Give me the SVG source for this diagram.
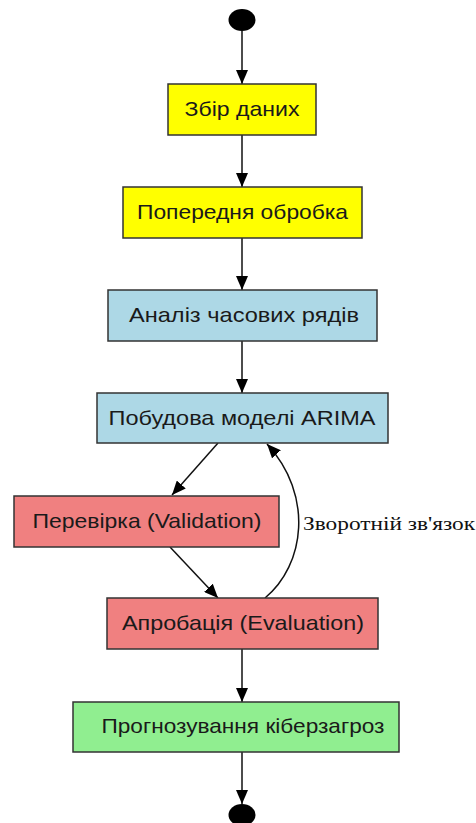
<svg xmlns="http://www.w3.org/2000/svg" width="476" height="823" viewBox="0 0 476 823">
<style>
.box{stroke:#333;stroke-width:1.5}
.lbl{font-family:"Liberation Sans",Arial,sans-serif;font-size:21px;fill:#1a1a1a;text-anchor:middle}
.edge{fill:none;stroke:#111;stroke-width:1.5}
.elbl{font-family:"Liberation Serif","Times New Roman",serif;font-size:18px;fill:#111}
</style>
<defs>
<marker id="ah" markerUnits="userSpaceOnUse" markerWidth="15" markerHeight="12" refX="14" refY="6" orient="auto">
<path d="M0,0 L14,6 L0,12 z" fill="#000"/>
</marker>
</defs>
<g id="edges">
<line class="edge" x1="242" y1="31" x2="242" y2="84" marker-end="url(#ah)"/>
<line class="edge" x1="242" y1="135" x2="242" y2="187" marker-end="url(#ah)"/>
<line class="edge" x1="242" y1="238" x2="242" y2="290" marker-end="url(#ah)"/>
<line class="edge" x1="242" y1="341" x2="242" y2="393" marker-end="url(#ah)"/>
<line class="edge" x1="218" y1="443" x2="172" y2="495" marker-end="url(#ah)"/>
<line class="edge" x1="170" y1="547" x2="218" y2="598" marker-end="url(#ah)"/>
<path class="edge" d="M265,598 C305,565 314,495 267,444" marker-end="url(#ah)"/>
<text class="elbl" x="303" y="530" textLength="172" lengthAdjust="spacingAndGlyphs">Зворотній зв'язок</text>
<line class="edge" x1="242" y1="649" x2="242" y2="702" marker-end="url(#ah)"/>
<line class="edge" x1="242" y1="752" x2="242" y2="804" marker-end="url(#ah)"/>
</g>
<g id="start"><ellipse cx="242" cy="20" rx="13.5" ry="11" fill="#000"/></g>
<g id="n1"><rect class="box" x="168" y="84" width="148" height="51" fill="#ffff00"/><text class="lbl" x="242" y="116" textLength="115" lengthAdjust="spacingAndGlyphs">Збір даних</text></g>
<g id="n2"><rect class="box" x="123" y="187" width="239" height="51" fill="#ffff00"/><text class="lbl" x="242.5" y="219" textLength="211" lengthAdjust="spacingAndGlyphs">Попередня обробка</text></g>
<g id="n3"><rect class="box" x="108" y="290" width="269" height="51" fill="#add8e6"/><text class="lbl" x="244" y="322" textLength="230" lengthAdjust="spacingAndGlyphs">Аналіз часових рядів</text></g>
<g id="n4"><rect class="box" x="97" y="393" width="291" height="50" fill="#add8e6"/><text class="lbl" x="242" y="425" textLength="267" lengthAdjust="spacingAndGlyphs">Побудова моделі ARIMA</text></g>
<g id="n5"><rect class="box" x="14" y="496" width="265" height="51" fill="#f08080"/><text class="lbl" x="147" y="528" textLength="229" lengthAdjust="spacingAndGlyphs">Перевірка (Validation)</text></g>
<g id="n6"><rect class="box" x="107" y="598" width="271" height="51" fill="#f08080"/><text class="lbl" x="243" y="630" textLength="242" lengthAdjust="spacingAndGlyphs">Апробація (Evaluation)</text></g>
<g id="n7"><rect class="box" x="73" y="702" width="326" height="50" fill="#90ee90"/><text class="lbl" x="243" y="733" textLength="283" lengthAdjust="spacingAndGlyphs">Прогнозування кіберзагроз</text></g>
<g id="end"><ellipse cx="242" cy="815" rx="13.5" ry="11" fill="#000"/></g>
</svg>
